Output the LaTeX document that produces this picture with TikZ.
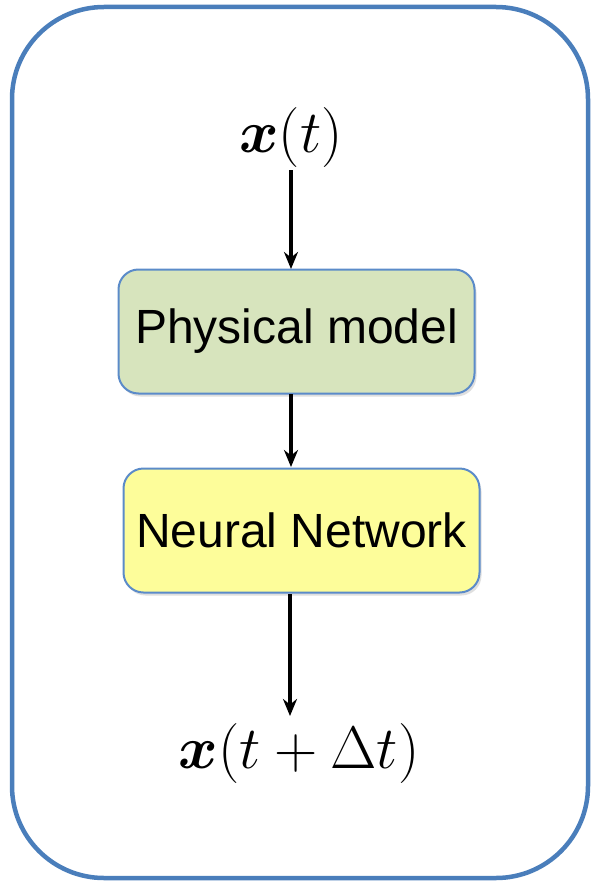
\RequirePackage{fix-cm}
\documentclass[tikz,border=0pt]{standalone}
\usepackage{fontspec}
\setmainfont{Liberation Sans}
\usepackage{bm}
\usetikzlibrary{arrows.meta,shadows}
\definecolor{outerblue}{HTML}{4A7EBB}
\definecolor{boxblue}{HTML}{5B8BC9}
\definecolor{boxgreen}{HTML}{D7E4BD}
\definecolor{boxyellow}{HTML}{FDFD9A}
\tikzset{
  procbox/.style={draw=boxblue, line width=2pt, rounded corners=20pt,
    minimum width=356pt, minimum height=124pt, inner sep=0pt,
    font=\fontsize{48}{56}\selectfont,
    drop shadow={shadow xshift=2pt, shadow yshift=-3pt, opacity=0.25}},
  mathlabel/.style={inner sep=0pt, font=\fontsize{60}{70}\selectfont},
  flow/.style={line width=3.5pt, -{Stealth[length=17pt,width=14pt]}}
}
\begin{document}
\begin{tikzpicture}[x=1pt,y=-1pt]
\useasboundingbox (0,0) rectangle (595,883);
\draw[outerblue, line width=4.5pt, rounded corners=92pt] (12,7) rectangle (588,878);
\node[procbox, fill=boxgreen] (pm) at (296.5,331.5) {Physical model};
\node[procbox, fill=boxyellow] (nn) at (301.5,530.5) {Neural Network};
\node[mathlabel] (xt) at (291,138) {$\bm{x}(t)$};
\node[mathlabel] (xdt) at (299,753) {$\bm{x}(t+\Delta t)$};
\coordinate (a1s) at (291,170);
\coordinate (a1e) at (291,269);
\coordinate (a2s) at (291,394);
\coordinate (a2e) at (291,467);
\coordinate (a3s) at (290,594);
\coordinate (a3e) at (290,716);
\draw[flow] (a1s) -- (a1e);
\draw[flow] (a2s) -- (a2e);
\draw[flow] (a3s) -- (a3e);
\end{tikzpicture}
\end{document}
